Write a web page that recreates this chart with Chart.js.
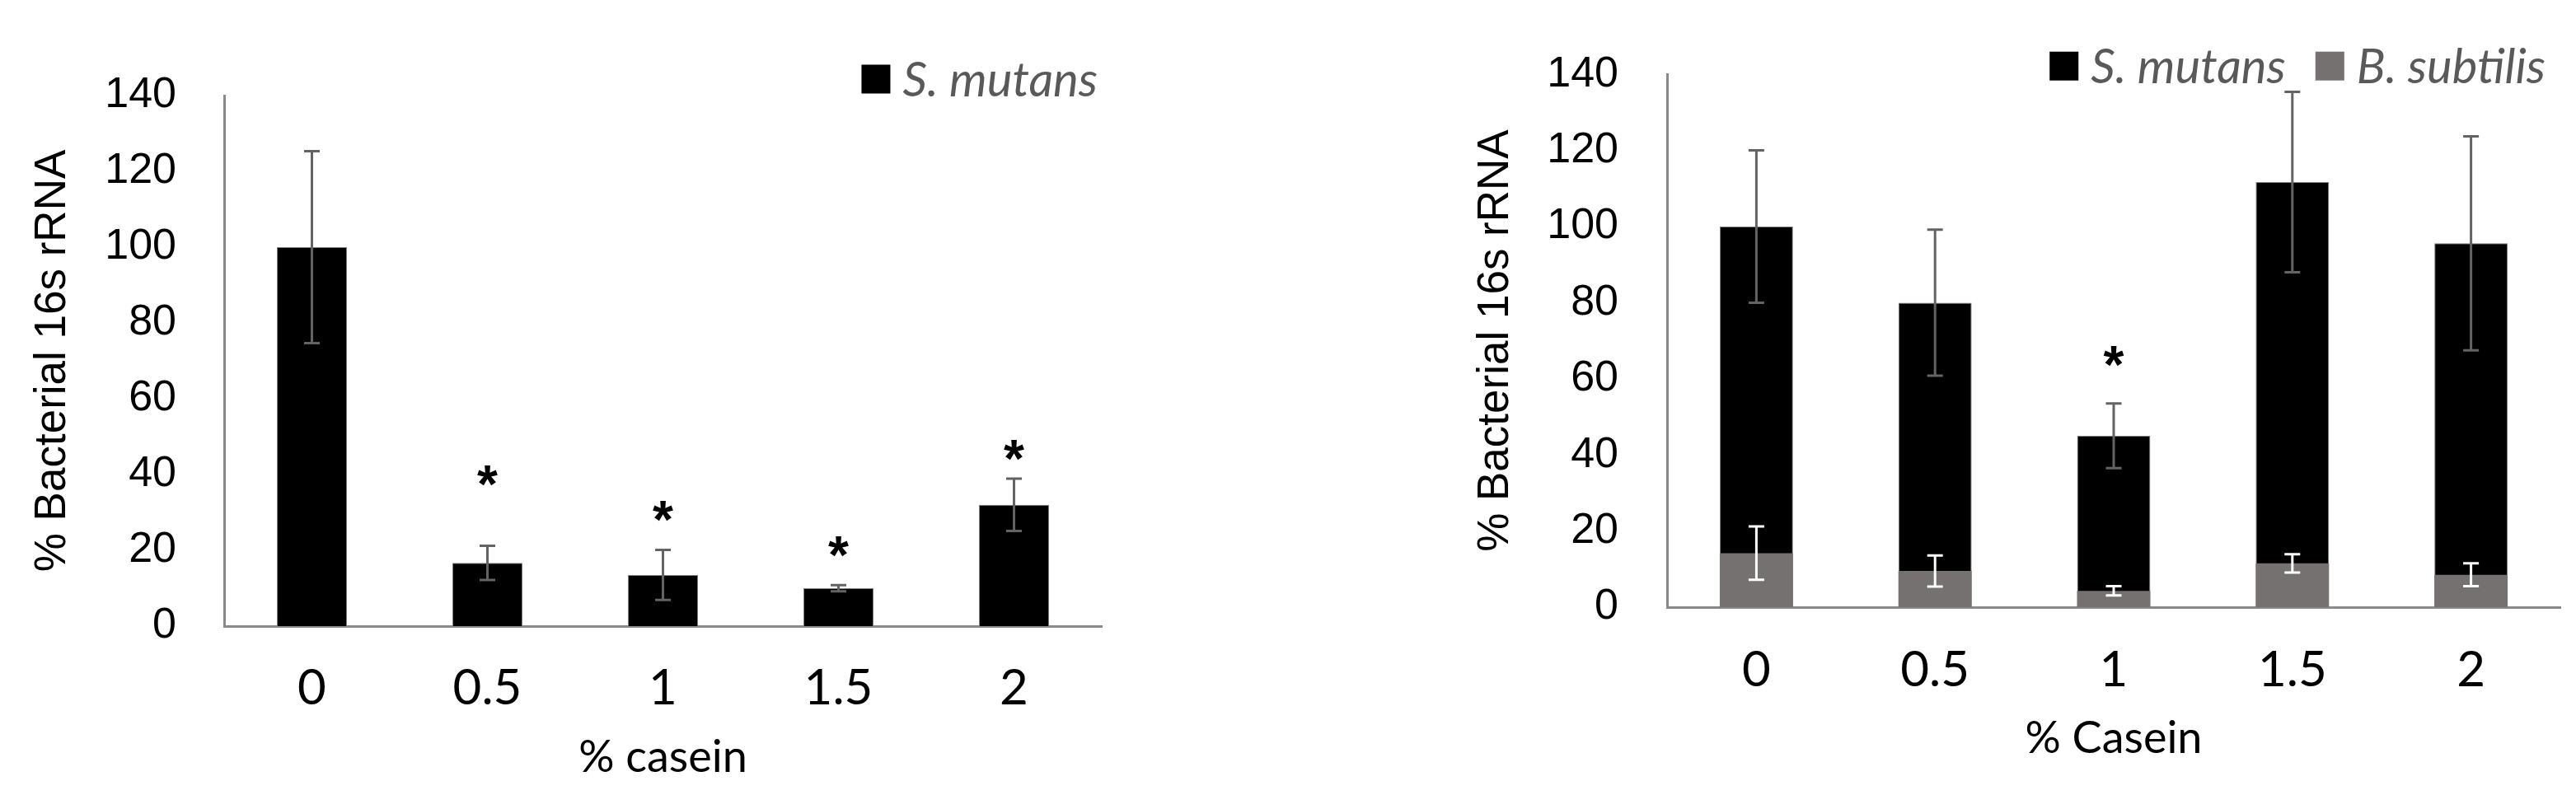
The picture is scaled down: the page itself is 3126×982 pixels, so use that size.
<!DOCTYPE html>
<html>
<head>
<meta charset="utf-8">
<script src="https://cdn.jsdelivr.net/npm/chart.js@4.4.1/dist/chart.umd.min.js"></script>
<style>
  html, body { margin: 0; padding: 0; background: #fff; }
  body { width: 3126px; height: 982px; position: relative; overflow: hidden; }
  canvas { position: absolute; top: 0; }
  #leftChart { left: 0; }
  #rightChart { left: 1700px; }
</style>
</head>
<body>
<canvas id="leftChart" width="1440" height="982"></canvas>
<canvas id="rightChart" width="1426" height="982"></canvas>
<script>
// --- Data ---
const caseinLevels = ['0', '0.5', '1', '1.5', '2'];
const yMin = 0, yMax = 140, yStep = 20;

// left panel: S. mutans grown alone
const mutansAlone = [100, 16.7, 13.5, 10, 32];
const mutansAloneErr = [25.3, 4.5, 6.6, 0.8, 6.9];
const mutansAloneStars = [null, 39.6, 30.4, 21, 46.5];

// right panel: S. mutans + B. subtilis
const mutansMixed = [100, 80, 45, 111.7, 95.6];
const mutansMixedErr = [20, 19.2, 8.5, 23.7, 28.1];
const subtilisMixed = [14.2, 9.5, 4.3, 11.5, 8.5];
const subtilisMixedErr = [7, 4.1, 1.2, 2.4, 3];
const mixedStars = [null, null, 66, null, null];

// Colors / fonts
const BLACK = '#000000';
const GREY_BAR = '#767171';
const AXIS = '#898989';
const ERR_GREY = '#636363';
const SANS = "'Liberation Sans', Arial, sans-serif";
const CALIBRI_LIKE = "Lato, 'Open Sans', sans-serif";

// --- Plugin: error bars (value +/- err, through the y scale) ---
const errorBarPlugin = {
    id: 'errorBars',
    afterDatasetsDraw(chart) {
        const ctx = chart.ctx;
        const yScale = chart.scales.y;
        const cap = 9.5;
        chart.data.datasets.forEach((ds, di) => {
            if (!ds.errors) return;
            const meta = chart.getDatasetMeta(di);
            ctx.save();
            ctx.strokeStyle = ds.errorColor;
            ctx.lineWidth = 3;
            meta.data.forEach((bar, i) => {
                const v = ds.data[i];
                const e = ds.errors[i];
                const top = yScale.getPixelForValue(v + e);
                const bottom = yScale.getPixelForValue(v - e);
                ctx.beginPath();
                ctx.moveTo(bar.x, top);
                ctx.lineTo(bar.x, bottom);
                ctx.moveTo(bar.x - cap, top);
                ctx.lineTo(bar.x + cap, top);
                ctx.moveTo(bar.x - cap, bottom);
                ctx.lineTo(bar.x + cap, bottom);
                ctx.stroke();
            });
            ctx.restore();
        });
    }
};

// --- Plugin: significance asterisks ---
const starPlugin = {
    id: 'stars',
    afterDatasetsDraw(chart, args, opts) {
        if (!opts.values) return;
        const ctx = chart.ctx;
        const xScale = chart.scales.x;
        const yScale = chart.scales.y;
        ctx.save();
        ctx.font = 'bold 64px ' + SANS;
        ctx.fillStyle = BLACK;
        ctx.textAlign = 'center';
        ctx.textBaseline = 'alphabetic';
        const m = ctx.measureText('*');
        const shift = (m.actualBoundingBoxAscent - m.actualBoundingBoxDescent) / 2;
        opts.values.forEach((v, i) => {
            if (v === null) return;
            ctx.fillText('*', xScale.getPixelForValue(i), yScale.getPixelForValue(v) + shift);
        });
        ctx.restore();
    }
};

// --- Plugin: legend in the top right corner ---
const cornerLegendPlugin = {
    id: 'cornerLegend',
    afterDraw(chart, args, opts) {
        const ctx = chart.ctx;
        const area = chart.chartArea;
        const box = 35, gap = 15, itemGap = 36;
        ctx.save();
        ctx.font = 'italic 58px ' + CALIBRI_LIKE;
        ctx.textBaseline = 'middle';
        const items = chart.data.datasets.map(ds => ({
            text: ds.label,
            color: ds.backgroundColor,
            w: ctx.measureText(ds.label).width
        }));
        let total = 0;
        items.forEach((it, i) => { total += box + gap + it.w + (i > 0 ? itemGap : 0); });
        let x = area.right - opts.right - total;
        const cy = area.top - opts.above;
        items.forEach(it => {
            ctx.fillStyle = it.color;
            ctx.fillRect(x, cy - box / 2, box, box);
            x += box + gap;
            ctx.fillStyle = '#595959';
            ctx.fillText(it.text, x, cy + 2);
            x += it.w + itemGap;
        });
        ctx.restore();
    }
};

// --- Build one panel ---
function makePanel(canvasId, datasets, p) {
    const ctx = document.getElementById(canvasId).getContext('2d');
    return new Chart(ctx, {
        type: 'bar',
        data: { labels: caseinLevels, datasets: datasets },
        options: {
            responsive: false,
            animation: false,
            events: [],
            layout: { padding: { top: p.top, right: p.right, left: 0, bottom: 0 } },
            plugins: {
                legend: { display: false },
                tooltip: { enabled: false },
                stars: { values: p.stars },
                cornerLegend: { right: p.legendRight, above: p.legendAbove }
            },
            scales: {
                x: {
                    grid: { display: false, drawTicks: false },
                    border: { display: true, color: AXIS, width: 3 },
                    ticks: { color: BLACK, font: { family: CALIBRI_LIKE, size: 60 }, padding: p.xTickPad },
                    title: {
                        display: true, text: p.xTitle, color: BLACK,
                        font: { family: CALIBRI_LIKE, size: 54 },
                        padding: { top: 0, bottom: p.xTitlePad }
                    },
                    afterFit(scale) { scale.height = p.xHeight; }
                },
                y: {
                    min: yMin, max: yMax,
                    grid: { display: false, drawTicks: false },
                    border: { display: true, color: AXIS, width: 3 },
                    ticks: { stepSize: yStep, color: BLACK, font: { family: SANS, size: 52 }, padding: p.yTickPad },
                    title: {
                        display: true, text: '% Bacterial 16s rRNA', color: BLACK,
                        font: { family: SANS, size: 53 },
                        padding: { top: p.yTitlePad, bottom: 0 }
                    },
                    afterFit(scale) { scale.width = p.yWidth; }
                }
            }
        },
        plugins: [errorBarPlugin, starPlugin, cornerLegendPlugin]
    });
}

// Left: S. mutans only
makePanel('leftChart', [{
    label: 'S. mutans',
    data: mutansAlone,
    errors: mutansAloneErr,
    errorColor: ERR_GREY,
    backgroundColor: BLACK,
    borderColor: '#808080',
    borderWidth: 1,
    barPercentage: 0.4,
    categoryPercentage: 1
}], {
    top: 116, right: 103, xHeight: 222, yWidth: 272,
    xTickPad: 40, xTitlePad: 30, yTickPad: 58, yTitlePad: 33,
    xTitle: '% casein', stars: mutansAloneStars,
    legendRight: 5, legendAbove: 20
});

// Right: co-culture, B. subtilis drawn over S. mutans
makePanel('rightChart', [{
    label: 'S. mutans',
    data: mutansMixed,
    errors: mutansMixedErr,
    errorColor: ERR_GREY,
    backgroundColor: BLACK,
    borderColor: '#808080',
    borderWidth: 1,
    barPercentage: 0.41,
    categoryPercentage: 1,
    grouped: false,
    order: 1
}, {
    label: 'B. subtilis',
    data: subtilisMixed,
    errors: subtilisMixedErr,
    errorColor: '#ffffff',
    backgroundColor: GREY_BAR,
    barPercentage: 0.41,
    categoryPercentage: 1,
    grouped: false,
    order: 0
}], {
    top: 85, right: 19, xHeight: 245, yWidth: 323,
    xTickPad: 41, xTitlePad: 53, yTickPad: 59, yTitlePad: 84,
    xTitle: '% Casein', stars: mixedStars,
    legendRight: 18, legendAbove: 10
});
</script>
</body>
</html>
